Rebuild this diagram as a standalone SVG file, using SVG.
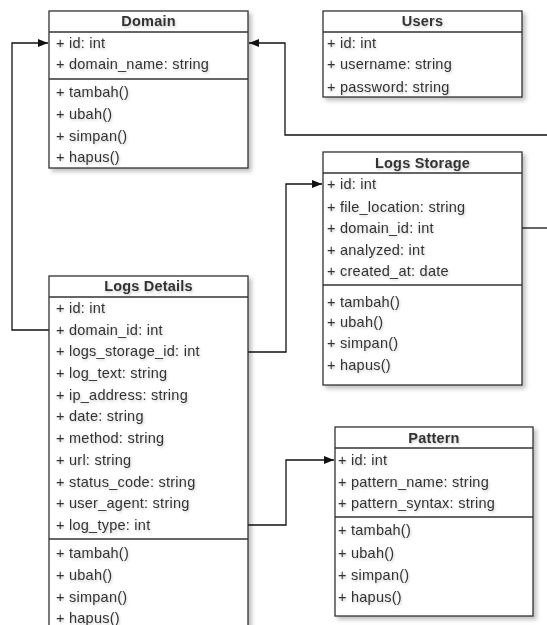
<svg xmlns="http://www.w3.org/2000/svg" width="547" height="625" viewBox="0 0 547 625">
<style>
.box{fill:#fff;stroke:#333;stroke-width:1.3;filter:url(#sh)}
.div{stroke:#333;stroke-width:1.3}
.t{font-family:"Liberation Sans",Arial,sans-serif;font-size:14.5px;letter-spacing:0.25px;fill:#333;filter:url(#tsh)}
.h{font-family:"Liberation Sans",Arial,sans-serif;font-size:14.5px;letter-spacing:0.2px;font-weight:bold;fill:#333;text-anchor:middle;filter:url(#tsh)}
.c{fill:none;stroke:#111;stroke-width:1.3}
</style>
<defs>
<filter id="sh" x="-10%" y="-10%" width="130%" height="130%">
<feDropShadow dx="3" dy="3" stdDeviation="2" flood-color="#000" flood-opacity="0.25"/>
</filter>
<filter id="tsh" x="-5%" y="-30%" width="115%" height="170%">
<feDropShadow dx="1" dy="1.5" stdDeviation="1" flood-color="#000" flood-opacity="0.2"/>
</filter>
<marker id="arr" markerUnits="userSpaceOnUse" markerWidth="11" markerHeight="9" refX="10" refY="4.5" orient="auto">
<path d="M0,0.5 L10,4.5 L0,8.5 z" fill="#111"/>
</marker>
</defs>
<rect width="547" height="625" fill="#fff"/>

<g id="connectors">
<path class="c" d="M49,330 H12 V43 H48" marker-end="url(#arr)"/>
<path class="c" d="M547,135 H285 V43 H249" marker-end="url(#arr)"/>
<path class="c" d="M522,228 H547"/>
<path class="c" d="M248,352 H286 V184 H322" marker-end="url(#arr)"/>
<path class="c" d="M248,525 H286 V460 H334" marker-end="url(#arr)"/>
</g>

<g id="domain">
<rect class="box" x="49" y="11" width="199" height="157"/>
<line class="div" x1="49" y1="32" x2="248" y2="32"/>
<line class="div" x1="49" y1="79" x2="248" y2="79"/>
<text class="h" x="148.5" y="26">Domain</text>
<text class="t" x="56" y="48">+ id: int</text>
<text class="t" x="56" y="69">+ domain_name: string</text>
<text class="t" x="56" y="97">+ tambah()</text>
<text class="t" x="56" y="119">+ ubah()</text>
<text class="t" x="56" y="141">+ simpan()</text>
<text class="t" x="56" y="162">+ hapus()</text>
</g>

<g id="users">
<rect class="box" x="323" y="11" width="199" height="86"/>
<line class="div" x1="323" y1="32" x2="522" y2="32"/>
<text class="h" x="422.5" y="26">Users</text>
<text class="t" x="327" y="48">+ id: int</text>
<text class="t" x="327" y="69">+ username: string</text>
<text class="t" x="327" y="92">+ password: string</text>
</g>

<g id="logs-storage">
<rect class="box" x="323" y="152" width="199" height="233"/>
<line class="div" x1="323" y1="173" x2="522" y2="173"/>
<line class="div" x1="323" y1="285" x2="522" y2="285"/>
<text class="h" x="422.5" y="168">Logs Storage</text>
<text class="t" x="327" y="189">+ id: int</text>
<text class="t" x="327" y="212">+ file_location: string</text>
<text class="t" x="327" y="233">+ domain_id: int</text>
<text class="t" x="327" y="255">+ analyzed: int</text>
<text class="t" x="327" y="276">+ created_at: date</text>
<text class="t" x="327" y="307">+ tambah()</text>
<text class="t" x="327" y="327">+ ubah()</text>
<text class="t" x="327" y="348">+ simpan()</text>
<text class="t" x="327" y="370">+ hapus()</text>
</g>

<g id="logs-details">
<rect class="box" x="49" y="276" width="199" height="355"/>
<line class="div" x1="49" y1="297" x2="248" y2="297"/>
<line class="div" x1="49" y1="539" x2="248" y2="539"/>
<text class="h" x="148.5" y="291">Logs Details</text>
<text class="t" x="56" y="313">+ id: int</text>
<text class="t" x="56" y="335">+ domain_id: int</text>
<text class="t" x="56" y="356">+ logs_storage_id: int</text>
<text class="t" x="56" y="378">+ log_text: string</text>
<text class="t" x="56" y="400">+ ip_address: string</text>
<text class="t" x="56" y="421">+ date: string</text>
<text class="t" x="56" y="443">+ method: string</text>
<text class="t" x="56" y="465">+ url: string</text>
<text class="t" x="56" y="487">+ status_code: string</text>
<text class="t" x="56" y="508">+ user_agent: string</text>
<text class="t" x="56" y="530">+ log_type: int</text>
<text class="t" x="56" y="558">+ tambah()</text>
<text class="t" x="56" y="580">+ ubah()</text>
<text class="t" x="56" y="602">+ simpan()</text>
<text class="t" x="56" y="623">+ hapus()</text>
</g>

<g id="pattern">
<rect class="box" x="335" y="427" width="198" height="189"/>
<line class="div" x1="335" y1="448" x2="533" y2="448"/>
<line class="div" x1="335" y1="517" x2="533" y2="517"/>
<text class="h" x="434" y="443">Pattern</text>
<text class="t" x="338" y="465">+ id: int</text>
<text class="t" x="338" y="487">+ pattern_name: string</text>
<text class="t" x="338" y="508">+ pattern_syntax: string</text>
<text class="t" x="338" y="535">+ tambah()</text>
<text class="t" x="338" y="558">+ ubah()</text>
<text class="t" x="338" y="580">+ simpan()</text>
<text class="t" x="338" y="602">+ hapus()</text>
</g>
</svg>
